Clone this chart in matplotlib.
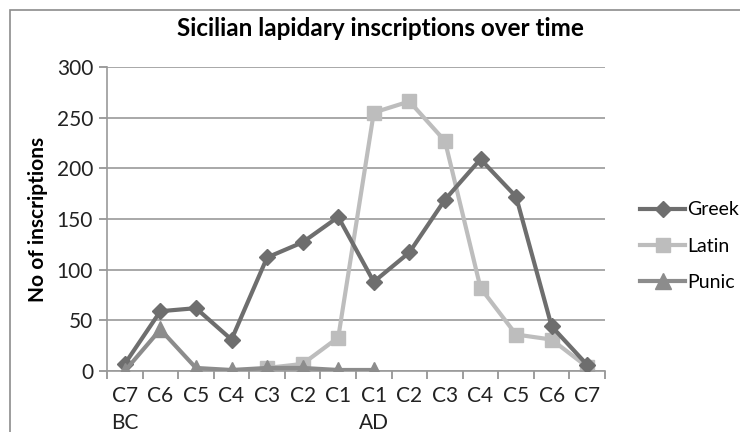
import numpy as np
import matplotlib
matplotlib.use("Agg")
import matplotlib.pyplot as plt
from matplotlib.patches import Rectangle

plt.rcParams['font.family'] = ['Lato', 'DejaVu Sans']

# Data
periods = ["C7\nBC", "C6", "C5", "C4", "C3", "C2", "C1",
           "C1\nAD", "C2", "C3", "C4", "C5", "C6", "C7"]
greek = [7, 59, 62, 31, 112, 127, 152, 88, 117, 169, 209, 172, 44, 6]
latin = [None, None, None, None, 3, 7, 33, 255, 266, 227, 82, 36, 31, 4]
punic = [0, 41, 3, 1, 3, 3, 1, 1]

x = np.arange(len(periods))
latin_arr = np.array([np.nan if v is None else v for v in latin], dtype=float)

fig = plt.figure(figsize=(7.4, 4.32), dpi=100)
ax = fig.add_axes([0.1446, 0.1412, 0.673, 0.7038])

# outer chart frame
fig.patches.append(Rectangle((10 / 740, -0.1), 1.1, (432 - 10) / 432 + 0.1,
                             transform=fig.transFigure, fill=False,
                             edgecolor='#8c8c8c', lw=1.2))

ax.plot(x, greek, color='#6e6e6e', lw=3, marker='D', ms=8, label='Greek', zorder=3)
ax.plot(x, latin_arr, color='#bdbdbd', lw=3, marker='s', ms=10, label='Latin', zorder=2)
ax.plot(x[:len(punic)], punic, color='#8c8c8c', lw=3, marker='^', ms=11, label='Punic', zorder=4)

ax.set_xlim(-0.5, len(periods) - 0.5)
ax.set_ylim(0, 300)
ax.set_yticks(np.arange(0, 301, 50))
ax.yaxis.grid(True, color='#9a9a9a', lw=1.2)
ax.set_axisbelow(True)

ax.set_xticks(x)
ax.set_xticklabels(periods, fontsize=15, color='#222222', linespacing=1.45)
for lab in ax.get_xticklabels():
    lab.set_horizontalalignment('center')
ax.tick_params(axis='x', length=0, pad=11)
ax.set_xticks(np.arange(-0.5, len(periods), 1), minor=True)
ax.tick_params(axis='x', which='minor', length=6, color='#8c8c8c', width=1.2)
ax.tick_params(axis='y', length=6, color='#8c8c8c', width=1.2, labelsize=15,
               labelcolor='#222222', pad=4)

for s in ['top', 'right']:
    ax.spines[s].set_visible(False)
ax.spines['left'].set_color('#9a9a9a')
ax.spines['bottom'].set_color('#9a9a9a')
ax.spines['left'].set_linewidth(1.2)
ax.spines['bottom'].set_linewidth(1.2)

ax.set_ylabel('No of inscriptions', fontsize=15, fontweight='bold', labelpad=6)
ax.set_title('Sicilian lapidary inscriptions over time', fontsize=17.5,
             fontweight='bold', pad=22, x=0.55)

leg = ax.legend(loc='center left', bbox_to_anchor=(1.055, 0.41), frameon=False,
                fontsize=14, handlelength=2.3, handletextpad=0.1, labelspacing=1.0,
                borderaxespad=0)

fig.savefig("out.png", dpi=100)
